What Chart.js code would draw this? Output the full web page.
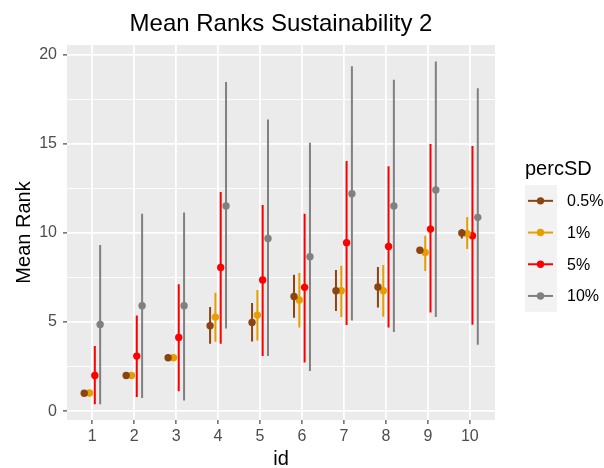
<!DOCTYPE html>
<html>
<head>
<meta charset="utf-8">
<script src="https://cdn.jsdelivr.net/npm/chart.js@4/dist/chart.umd.min.js"></script>
<style>
  html, body { margin: 0; padding: 0; background: #ffffff; }
  #wrap { width: 604px; height: 468px; }
</style>
</head>
<body>
<div id="wrap"><canvas id="c" width="604" height="468"></canvas></div>
<script>
// Mean rank per id, with lower / upper bounds, for each perturbation level
const ids = [1, 2, 3, 4, 5, 6, 7, 8, 9, 10];
const seriesLabels = ['0.5%', '1%', '5%', '10%'];
const yTicks = [0, 5, 10, 15, 20];

const mean05 = [1.0, 2.0, 3.0, 4.79, 4.98, 6.44, 6.76, 6.97, 9.03, 10.0];
const lo05   = [1.0, 2.0, 3.0, 3.78, 3.91, 5.24, 5.62, 5.82, 8.9, 9.7];
const hi05   = [1.0, 2.0, 3.0, 5.84, 6.07, 7.66, 7.92, 8.09, 9.15, 10.22];

const mean1 = [1.02, 2.0, 3.0, 5.28, 5.39, 6.24, 6.76, 6.76, 8.91, 9.96];
const lo1   = [1.02, 2.0, 3.0, 3.9, 3.97, 4.7, 5.28, 5.3, 7.87, 9.1];
const hi1   = [1.02, 2.0, 3.0, 6.65, 6.8, 7.75, 8.16, 8.2, 9.85, 10.9];

const mean5 = [2.0, 3.09, 4.14, 8.07, 7.36, 6.95, 9.46, 9.25, 10.22, 9.85];
const lo5   = [0.38, 0.79, 1.12, 3.78, 3.09, 2.73, 4.83, 4.7, 5.54, 4.85];
const hi5   = [3.65, 5.37, 7.13, 12.3, 11.57, 11.09, 14.04, 13.75, 15.0, 14.89];

const mean10 = [4.87, 5.92, 5.92, 11.52, 9.7, 8.67, 12.21, 11.52, 12.42, 10.88];
const lo10   = [0.38, 0.73, 0.6, 4.64, 3.09, 2.25, 5.09, 4.44, 5.28, 3.73];
const hi10   = [9.33, 11.09, 11.16, 18.48, 16.37, 15.07, 19.37, 18.61, 19.63, 18.13];

// styling
const colors = ['#8B4513', '#E69F00', '#FF0000', '#808080'];
const dodge = [-0.19, -0.063, 0.063, 0.19];
const FONT = "'Liberation Sans', Arial, sans-serif";

const means = [mean05, mean1, mean5, mean10];
const lows = [lo05, lo1, lo5, lo10];
const highs = [hi05, hi1, hi5, hi10];

const datasets = [];
// points (drawn on top)
seriesLabels.forEach((lab, s) => {
  datasets.push({
    label: lab,
    data: ids.map((id, i) => ({ x: id + dodge[s], y: means[s][i] })),
    backgroundColor: colors[s],
    borderColor: colors[s],
    borderWidth: 0,
    pointRadius: 3.7,
    pointHoverRadius: 3.7,
    showLine: false,
    order: 1
  });
});
// error bars: one vertical segment per id, separated by gaps
seriesLabels.forEach((lab, s) => {
  const d = [];
  ids.forEach((id, i) => {
    d.push({ x: id + dodge[s], y: lows[s][i] });
    d.push({ x: id + dodge[s], y: highs[s][i] });
    d.push({ x: id + dodge[s], y: null });
  });
  datasets.push({
    label: lab + ' range',
    data: d,
    borderColor: colors[s],
    borderWidth: 2,
    pointRadius: 0,
    pointHoverRadius: 0,
    showLine: true,
    spanGaps: false,
    borderCapStyle: 'butt',
    order: 2
  });
});

const panelPlugin = {
  id: 'panel',
  beforeDraw(chart) {
    const { ctx, chartArea: a } = chart;
    ctx.save();
    ctx.fillStyle = '#EBEBEB';
    ctx.fillRect(a.left, a.top, a.right - a.left, a.bottom - a.top);
    ctx.restore();
  },
  afterDraw(chart) {
    const { ctx, chartArea: a } = chart;
    ctx.save();
    // title
    ctx.fillStyle = '#000000';
    ctx.font = '24px ' + FONT;
    ctx.textAlign = 'center';
    ctx.textBaseline = 'alphabetic';
    ctx.fillText('Mean Ranks Sustainability 2', (a.left + a.right) / 2, 31);

    // legend
    const keyL = 525, keyW = 32, rowH = 31.7, top0 = 185;
    ctx.textAlign = 'left';
    ctx.font = '20px ' + FONT;
    ctx.fillText('percSD', keyL, 175);
    ctx.fillStyle = '#F2F2F2';
    ctx.fillRect(keyL, top0, keyW, rowH * seriesLabels.length);
    ctx.font = '16px ' + FONT;
    ctx.textBaseline = 'middle';
    seriesLabels.forEach((lab, s) => {
      const cy = top0 + rowH * (s + 0.5);
      ctx.strokeStyle = colors[s];
      ctx.lineWidth = 2;
      ctx.beginPath();
      ctx.moveTo(keyL + 3, cy);
      ctx.lineTo(keyL + keyW - 4, cy);
      ctx.stroke();
      ctx.fillStyle = colors[s];
      ctx.beginPath();
      ctx.arc(keyL + keyW / 2 - 0.5, cy, 3.7, 0, Math.PI * 2);
      ctx.fill();
      ctx.fillStyle = '#000000';
      ctx.fillText(lab, 567, cy + 1);
    });
    ctx.restore();
  }
};

new Chart(document.getElementById('c'), {
  type: 'scatter',
  data: { datasets },
  plugins: [panelPlugin],
  options: {
    responsive: false,
    animation: false,
    events: [],
    layout: { padding: { top: 45, right: 109, left: 0, bottom: 0 } },
    plugins: {
      legend: { display: false },
      title: { display: false },
      tooltip: { enabled: false }
    },
    scales: {
      x: {
        type: 'linear',
        min: 0.4,
        max: 10.6,
        afterBuildTicks: (scale) => { scale.ticks = ids.map(v => ({ value: v })); },
        afterFit: (scale) => { scale.height = 48; },
        border: { display: false },
        grid: {
          color: '#FFFFFF',
          lineWidth: 1.8,
          tickColor: '#333333',
          tickLength: 4,
          tickWidth: 1.1
        },
        ticks: {
          color: '#4D4D4D',
          font: { family: FONT, size: 16 },
          padding: 3,
          maxRotation: 0,
          callback: (v) => String(v)
        },
        title: {
          display: true,
          text: 'id',
          color: '#000000',
          font: { family: FONT, size: 20, lineHeight: 0.9 },
          padding: { top: 0, bottom: 0 }
        }
      },
      y: {
        type: 'linear',
        min: -0.5,
        max: 20.56,
        afterBuildTicks: (scale) => {
          const t = [];
          for (let k = 0; k < yTicks.length; k++) {
            t.push({ value: yTicks[k] });
            if (k < yTicks.length - 1) t.push({ value: (yTicks[k] + yTicks[k + 1]) / 2, minor: true });
          }
          scale.ticks = t;
        },
        afterFit: (scale) => { scale.width = 67; },
        border: { display: false },
        grid: {
          color: '#FFFFFF',
          lineWidth: (c) => (c.tick && yTicks.includes(c.tick.value)) ? 1.8 : 0.9,
          tickColor: (c) => (c.tick && yTicks.includes(c.tick.value)) ? '#333333' : 'rgba(0,0,0,0)',
          tickLength: 4,
          tickWidth: 1.1
        },
        ticks: {
          color: '#4D4D4D',
          font: { family: FONT, size: 16 },
          padding: 6,
          callback: (v) => yTicks.includes(v) ? String(v) : ''
        },
        title: {
          display: true,
          text: 'Mean Rank',
          color: '#000000',
          font: { family: FONT, size: 20 },
          padding: { top: 12, bottom: 0 }
        }
      }
    }
  }
});
</script>
</body>
</html>
